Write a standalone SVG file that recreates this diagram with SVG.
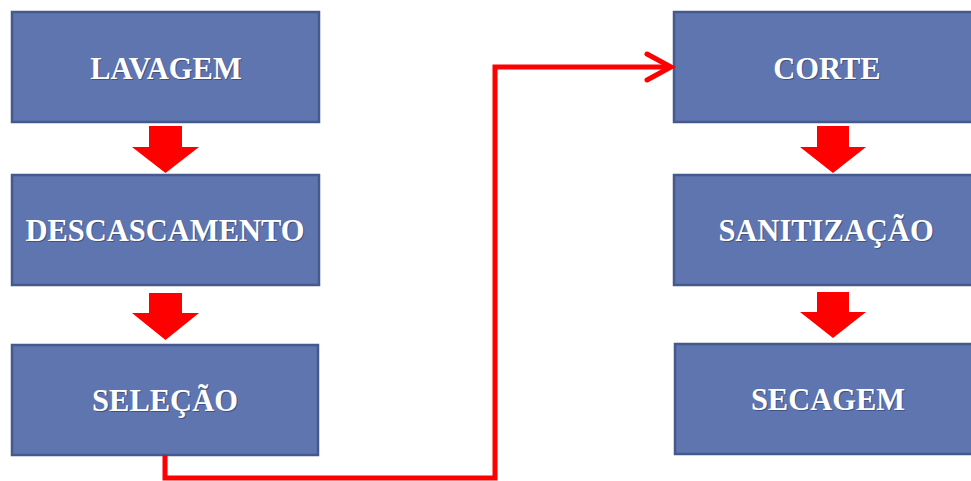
<svg xmlns="http://www.w3.org/2000/svg" width="971" height="481" viewBox="0 0 971 481">
<defs>
<style>
.box{fill:#5f75b0;stroke:#46598c;stroke-width:2.5}
.lbl{font-family:"Liberation Serif","Times New Roman",serif;font-weight:bold;font-size:30.5px;fill:#ffffff;text-anchor:middle}
.sh{font-family:"Liberation Serif","Times New Roman",serif;font-weight:bold;font-size:30.5px;fill:#2c3a66;text-anchor:middle;opacity:0.6}
.blk{fill:#ff0000}
</style>
</defs>
<rect width="971" height="481" fill="#ffffff"/>
<g id="lavagem">
<rect class="box" x="12" y="12" width="307" height="110"/>
<text class="sh" x="167" y="80">LAVAGEM</text>
<text class="lbl" x="166" y="79">LAVAGEM</text>
</g>
<g id="descascamento">
<rect class="box" x="12" y="175" width="307" height="110"/>
<text class="sh" x="166" y="242">DESCASCAMENTO</text>
<text class="lbl" x="165" y="241">DESCASCAMENTO</text>
</g>
<g id="selecao">
<rect class="box" x="12" y="345" width="306" height="110"/>
<text class="sh" x="166" y="412">SELEÇÃO</text>
<text class="lbl" x="165" y="411">SELEÇÃO</text>
</g>
<g id="corte">
<rect class="box" x="674" y="12" width="310" height="110"/>
<text class="sh" x="828" y="80">CORTE</text>
<text class="lbl" x="827" y="79">CORTE</text>
</g>
<g id="sanitizacao">
<rect class="box" x="674" y="175" width="310" height="110"/>
<text class="sh" x="827" y="242">SANITIZAÇÃO</text>
<text class="lbl" x="826" y="241">SANITIZAÇÃO</text>
</g>
<g id="secagem">
<rect class="box" x="675" y="344" width="310" height="110"/>
<text class="sh" x="829" y="411">SECAGEM</text>
<text class="lbl" x="828" y="410">SECAGEM</text>
</g>
<g id="connectors">
<polygon class="blk" points="149,126 182,126 182,147 199,147 165.5,173 132,147 149,147"/>
<polygon class="blk" points="149,293 182,293 182,313 199,313 165.5,340 132,313 149,313"/>
<polygon class="blk" points="817,126 849,126 849,147 866,147 833,173 800,147 817,147"/>
<polygon class="blk" points="817,292 849,292 849,312 866,312 833,338 800,312 817,312"/>
<polyline points="165,455 165,478 495,478 495,67 670,67" fill="none" stroke="#ff0000" stroke-width="5" stroke-linejoin="miter"/>
<polyline points="647,54 671,67 647,80" fill="none" stroke="#ff0000" stroke-width="5" stroke-linecap="round" stroke-linejoin="miter"/>
</g>
</svg>
